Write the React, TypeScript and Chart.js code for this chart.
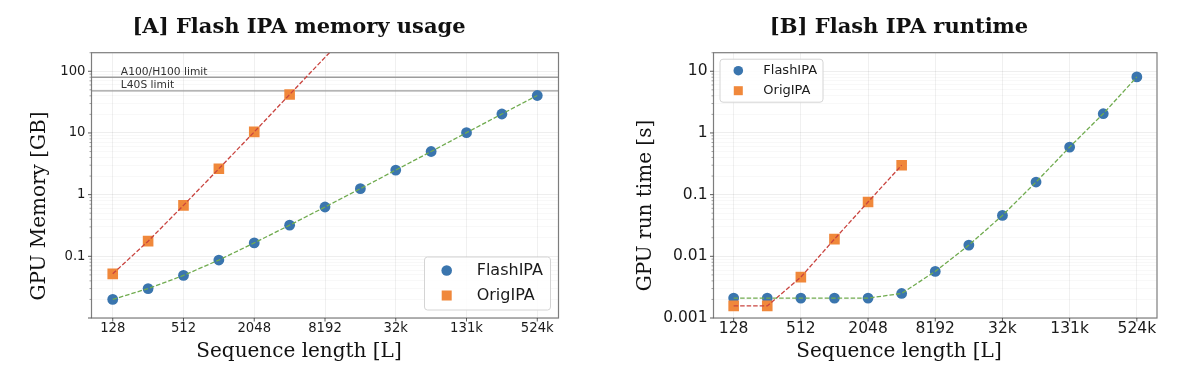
import React, { useEffect, useRef } from "react";
import { Chart, registerables } from "chart.js";

Chart.register(...registerables);

// ---------------- data ----------------
const seqLengths = [128, 256, 512, 1024, 2048, 4096, 8192, 16384, 32768, 65536, 131072, 262144, 524288];
const origLengths = [128, 256, 512, 1024, 2048, 4096];
const origTrendLengthsA = [128, 256, 512, 1024, 2048, 4096, 8192, 16384];

const seriesNames = ["FlashIPA", "OrigIPA"];

// [A] memory (GB)
const memFlash = [0.02, 0.03, 0.049, 0.087, 0.165, 0.32, 0.63, 1.25, 2.5, 5.0, 10.1, 20.3, 40.5];
const memOrig = [0.052, 0.176, 0.67, 2.63, 10.4, 42];
const memOrigTrend = [0.052, 0.176, 0.67, 2.63, 10.4, 42, 168, 672];
const memLimits = [80, 48];
const memLimitLabels = ["A100/H100 limit", "L40S limit"];

// [B] runtime (s)
const timeFlash = [0.0021, 0.0021, 0.0021, 0.0021, 0.0021, 0.0025, 0.0057, 0.0152, 0.046, 0.16, 0.59, 2.05, 8.1];
const timeOrig = [0.00157, 0.00157, 0.0046, 0.019, 0.076, 0.3];

// ticks
const xTickValues = [128, 512, 2048, 8192, 32768, 131072, 524288];
const xTickLabels = ["128", "512", "2048", "8192", "32k", "131k", "524k"];
const memYTickValues = [0.1, 1, 10, 100];
const memYTickLabels = ["0.1", "1", "10", "100"];
const timeYTickValues = [0.001, 0.01, 0.1, 1, 10];
const timeYTickLabels = ["0.001", "0.01", "0.1", "1", "10"];

const X_MIN = Math.pow(2, 6.4);
const X_MAX = Math.pow(2, 19.6);

// ---------------- style ----------------
const BLUE = "#3a75ae";
const ORANGE = "#f0883b";
const GREEN = "#70ab4f";
const RED = "#c9443f";
const LIMIT_COLOR = "#9c9c9c";
const FRAME_COLOR = "#7d7d7d";
const TEXT = "#1a1a1a";
const SANS = '"DejaVu Sans", sans-serif';
const SERIF = '"DejaVu Serif", serif';

type Panel = {
  title: string;
  xTitle: string;
  yTitle: string;
  yMin: number;
  yMax: number;
  yTickValues: number[];
  yTickLabels: string[];
  tickFont: number;
  flash: number[];
  origX: number[];
  origY: number[];
  origLineX: number[];
  origLineY: number[];
  plot: { left: number; right: number; top: number; bottom: number };
  yTitleAt: { x: number; y: number };
  legend: { x: number; y: number; w: number; h: number; markerX: number; textX: number; rowY: number[]; font: number; r: number; sq: number };
  limits?: number[];
  limitLabels?: string[];
  limitLabelX?: number;
};

const W = 600;
const H = 379;

const panelA: Panel = {
  title: "[A] Flash IPA memory usage",
  xTitle: "Sequence length [L]",
  yTitle: "GPU Memory [GB]",
  yMin: 0.01,
  yMax: 200,
  yTickValues: memYTickValues,
  yTickLabels: memYTickLabels,
  tickFont: 13.2,
  flash: memFlash,
  origX: origLengths,
  origY: memOrig,
  origLineX: origTrendLengthsA,
  origLineY: memOrigTrend,
  plot: { left: 91.5, right: 558.5, top: 52.7, bottom: 318 },
  yTitleAt: { x: 45, y: 206 },
  legend: { x: 424.5, y: 257, w: 126, h: 53, markerX: 446.7, textX: 476.7, rowY: [270.5, 295.5], font: 16, r: 5.3, sq: 10 },
  limits: memLimits,
  limitLabels: memLimitLabels,
  limitLabelX: 150,
};

const panelB: Panel = {
  title: "[B] Flash IPA runtime",
  xTitle: "Sequence length [L]",
  yTitle: "GPU run time [s]",
  yMin: 0.001,
  yMax: 20,
  yTickValues: timeYTickValues,
  yTickLabels: timeYTickLabels,
  tickFont: 15.5,
  flash: timeFlash,
  origX: origLengths,
  origY: timeOrig,
  origLineX: origLengths,
  origLineY: timeOrig,
  plot: { left: 113.5, right: 557, top: 52.7, bottom: 318 },
  yTitleAt: { x: 51, y: 205.5 },
  legend: { x: 120, y: 59.2, w: 103, h: 43, markerX: 138.3, textX: 163.3, rowY: [70.7, 90.7], font: 13, r: 4.8, sq: 9 },
};

function logGridValues(min: number, max: number): number[] {
  const out: number[] = [];
  const e0 = Math.floor(Math.log10(min)) - 1;
  const e1 = Math.ceil(Math.log10(max)) + 1;
  for (let e = e0; e <= e1; e++) {
    for (let m = 1; m <= 9; m++) {
      const v = m * Math.pow(10, e);
      if (v >= min * 0.9999 && v <= max * 1.0001) out.push(v);
    }
  }
  return out;
}

const isDecade = (v: number) => Math.abs(Math.log10(v) - Math.round(Math.log10(v))) < 1e-6;

function findLabel(values: number[], labels: string[], v: number): string {
  for (let i = 0; i < values.length; i++) {
    if (Math.abs(v / values[i] - 1) < 1e-6) return labels[i];
  }
  return "";
}

function makePlugin(p: Panel) {
  return {
    id: "decor",
    beforeDatasetsDraw(chart: any) {
      const { ctx, chartArea: a, scales } = chart;
      if (p.limits) {
        ctx.save();
        ctx.strokeStyle = LIMIT_COLOR;
        ctx.lineWidth = 1.3;
        p.limits.forEach((v) => {
          const y = scales.y.getPixelForValue(v);
          ctx.beginPath();
          ctx.moveTo(a.left, y);
          ctx.lineTo(a.right, y);
          ctx.stroke();
        });
        ctx.restore();
      }
    },
    afterDraw(chart: any) {
      const { ctx, chartArea: a, scales } = chart;
      ctx.save();

      // limit labels
      if (p.limits && p.limitLabels && p.limitLabelX) {
        ctx.font = `10.7px ${SANS}`;
        ctx.fillStyle = "#333333";
        ctx.textAlign = "left";
        ctx.textBaseline = "alphabetic";
        const lx = scales.x.getPixelForValue(p.limitLabelX);
        p.limits.forEach((v, i) => {
          const y = scales.y.getPixelForValue(v) - 2.6;
          ctx.fillText(p.limitLabels![i], lx, y);
        });
      }

      // frame
      ctx.strokeStyle = FRAME_COLOR;
      ctx.lineWidth = 1.2;
      ctx.strokeRect(a.left, a.top, a.right - a.left, a.bottom - a.top);

      // tick marks
      ctx.strokeStyle = "#333333";
      ctx.lineWidth = 0.8;
      xTickValues.forEach((v) => {
        const x = scales.x.getPixelForValue(v);
        ctx.beginPath();
        ctx.moveTo(x, a.bottom);
        ctx.lineTo(x, a.bottom + 3.5);
        ctx.stroke();
      });
      logGridValues(p.yMin, p.yMax).forEach((v) => {
        const y = scales.y.getPixelForValue(v);
        const len = isDecade(v) ? 3.5 : 2;
        ctx.strokeStyle = isDecade(v) ? "#333333" : "#666666";
        ctx.lineWidth = isDecade(v) ? 0.8 : 0.6;
        ctx.beginPath();
        ctx.moveTo(a.left - len, y);
        ctx.lineTo(a.left, y);
        ctx.stroke();
      });

      // legend
      const L = p.legend;
      ctx.beginPath();
      const rr = 3;
      ctx.moveTo(L.x + rr, L.y);
      ctx.lineTo(L.x + L.w - rr, L.y);
      ctx.quadraticCurveTo(L.x + L.w, L.y, L.x + L.w, L.y + rr);
      ctx.lineTo(L.x + L.w, L.y + L.h - rr);
      ctx.quadraticCurveTo(L.x + L.w, L.y + L.h, L.x + L.w - rr, L.y + L.h);
      ctx.lineTo(L.x + rr, L.y + L.h);
      ctx.quadraticCurveTo(L.x, L.y + L.h, L.x, L.y + L.h - rr);
      ctx.lineTo(L.x, L.y + rr);
      ctx.quadraticCurveTo(L.x, L.y, L.x + rr, L.y);
      ctx.closePath();
      ctx.fillStyle = "rgba(255,255,255,0.85)";
      ctx.fill();
      ctx.strokeStyle = "#d4d4d4";
      ctx.lineWidth = 1;
      ctx.stroke();

      ctx.fillStyle = BLUE;
      ctx.beginPath();
      ctx.arc(L.markerX, L.rowY[0], L.r, 0, Math.PI * 2);
      ctx.fill();
      ctx.fillStyle = ORANGE;
      ctx.fillRect(L.markerX - L.sq / 2, L.rowY[1] - L.sq / 2, L.sq, L.sq);

      ctx.fillStyle = TEXT;
      ctx.font = `${L.font}px ${SANS}`;
      ctx.textAlign = "left";
      ctx.textBaseline = "middle";
      ctx.fillText(seriesNames[0], L.textX, L.rowY[0]);
      ctx.fillText(seriesNames[1], L.textX, L.rowY[1]);

      // titles
      ctx.fillStyle = "#111111";
      ctx.textAlign = "center";
      ctx.textBaseline = "alphabetic";
      ctx.font = `bold 21px ${SERIF}`;
      ctx.fillText(p.title, 299, 33);

      ctx.font = `20px ${SERIF}`;
      ctx.fillText(p.xTitle, 299, 357);

      ctx.translate(p.yTitleAt.x, p.yTitleAt.y);
      ctx.rotate(-Math.PI / 2);
      ctx.fillText(p.yTitle, 0, 0);

      ctx.restore();
    },
  };
}

function buildConfig(p: Panel): any {
  const yGrid = logGridValues(p.yMin, p.yMax);
  // label centre ~11px below the axis
  const xPad = 11 - (p.tickFont * 1.2) / 2;
  return {
    type: "line",
    data: {
      datasets: [
        {
          label: "FlashIPA trend",
          data: seqLengths.map((x, i) => ({ x, y: p.flash[i] })),
          borderColor: GREEN,
          borderWidth: 1.3,
          borderDash: [4.5, 2],
          pointRadius: 0,
          fill: false,
          order: 0,
        },
        {
          label: "OrigIPA trend",
          data: p.origLineX.map((x, i) => ({ x, y: p.origLineY[i] })),
          borderColor: RED,
          borderWidth: 1.3,
          borderDash: [4.5, 2],
          pointRadius: 0,
          fill: false,
          order: 0,
        },
        {
          label: seriesNames[1],
          data: p.origX.map((x, i) => ({ x, y: p.origY[i] })),
          showLine: false,
          pointStyle: "rect",
          pointRadius: 7.5,
          pointBackgroundColor: ORANGE,
          pointBorderWidth: 0,
          pointBorderColor: ORANGE,
          order: 1,
        },
        {
          label: seriesNames[0],
          data: seqLengths.map((x, i) => ({ x, y: p.flash[i] })),
          showLine: false,
          pointStyle: "circle",
          pointRadius: 5.4,
          pointBackgroundColor: BLUE,
          pointBorderWidth: 0,
          pointBorderColor: BLUE,
          order: 2,
        },
      ],
    },
    options: {
      responsive: false,
      animation: false,
      devicePixelRatio: 1,
      events: [],
      layout: { padding: { left: 0, top: p.plot.top, right: W - p.plot.right, bottom: 0 } },
      plugins: { legend: { display: false }, title: { display: false }, tooltip: { enabled: false } },
      scales: {
        x: {
          type: "logarithmic",
          position: "bottom",
          min: X_MIN,
          max: X_MAX,
          afterBuildTicks: (scale: any) => {
            scale.ticks = xTickValues.map((v) => ({ value: v }));
          },
          afterFit: (scale: any) => {
            scale.height = H - p.plot.bottom;
          },
          ticks: {
            autoSkip: false,
            maxRotation: 0,
            minRotation: 0,
            padding: xPad,
            color: TEXT,
            font: { family: SANS, size: p.tickFont },
            callback: (v: any) => findLabel(xTickValues, xTickLabels, Number(v)),
          },
          grid: { color: "rgba(0,0,0,0.08)", lineWidth: 0.8, drawTicks: false },
          border: { display: false },
        },
        y: {
          type: "logarithmic",
          position: "left",
          min: p.yMin,
          max: p.yMax,
          afterBuildTicks: (scale: any) => {
            scale.ticks = yGrid.map((v) => ({ value: v }));
          },
          afterFit: (scale: any) => {
            scale.width = p.plot.left;
          },
          ticks: {
            autoSkip: false,
            padding: 6,
            color: TEXT,
            font: { family: SANS, size: p.tickFont },
            callback: (v: any) => findLabel(p.yTickValues, p.yTickLabels, Number(v)),
          },
          grid: {
            drawTicks: false,
            lineWidth: 0.8,
            color: (c: any) => (c.tick && isDecade(c.tick.value) ? "rgba(0,0,0,0.085)" : "rgba(0,0,0,0.04)"),
          },
          border: { display: false },
        },
      },
    },
    plugins: [makePlugin(p)],
  };
}

function PanelChart({ panel }: { panel: Panel }) {
  const ref = useRef<HTMLCanvasElement | null>(null);
  useEffect(() => {
    if (!ref.current) return;
    const chart = new Chart(ref.current, buildConfig(panel));
    return () => chart.destroy();
  }, [panel]);
  return <canvas ref={ref} width={W} height={H} style={{ display: "block", width: W, height: H }} />;
}

export default function App() {
  return (
    <div
      style={{
        position: "absolute",
        left: 0,
        top: 0,
        width: 1200,
        height: 379,
        display: "flex",
        background: "#ffffff",
      }}
    >
      <PanelChart panel={panelA} />
      <PanelChart panel={panelB} />
    </div>
  );
}
